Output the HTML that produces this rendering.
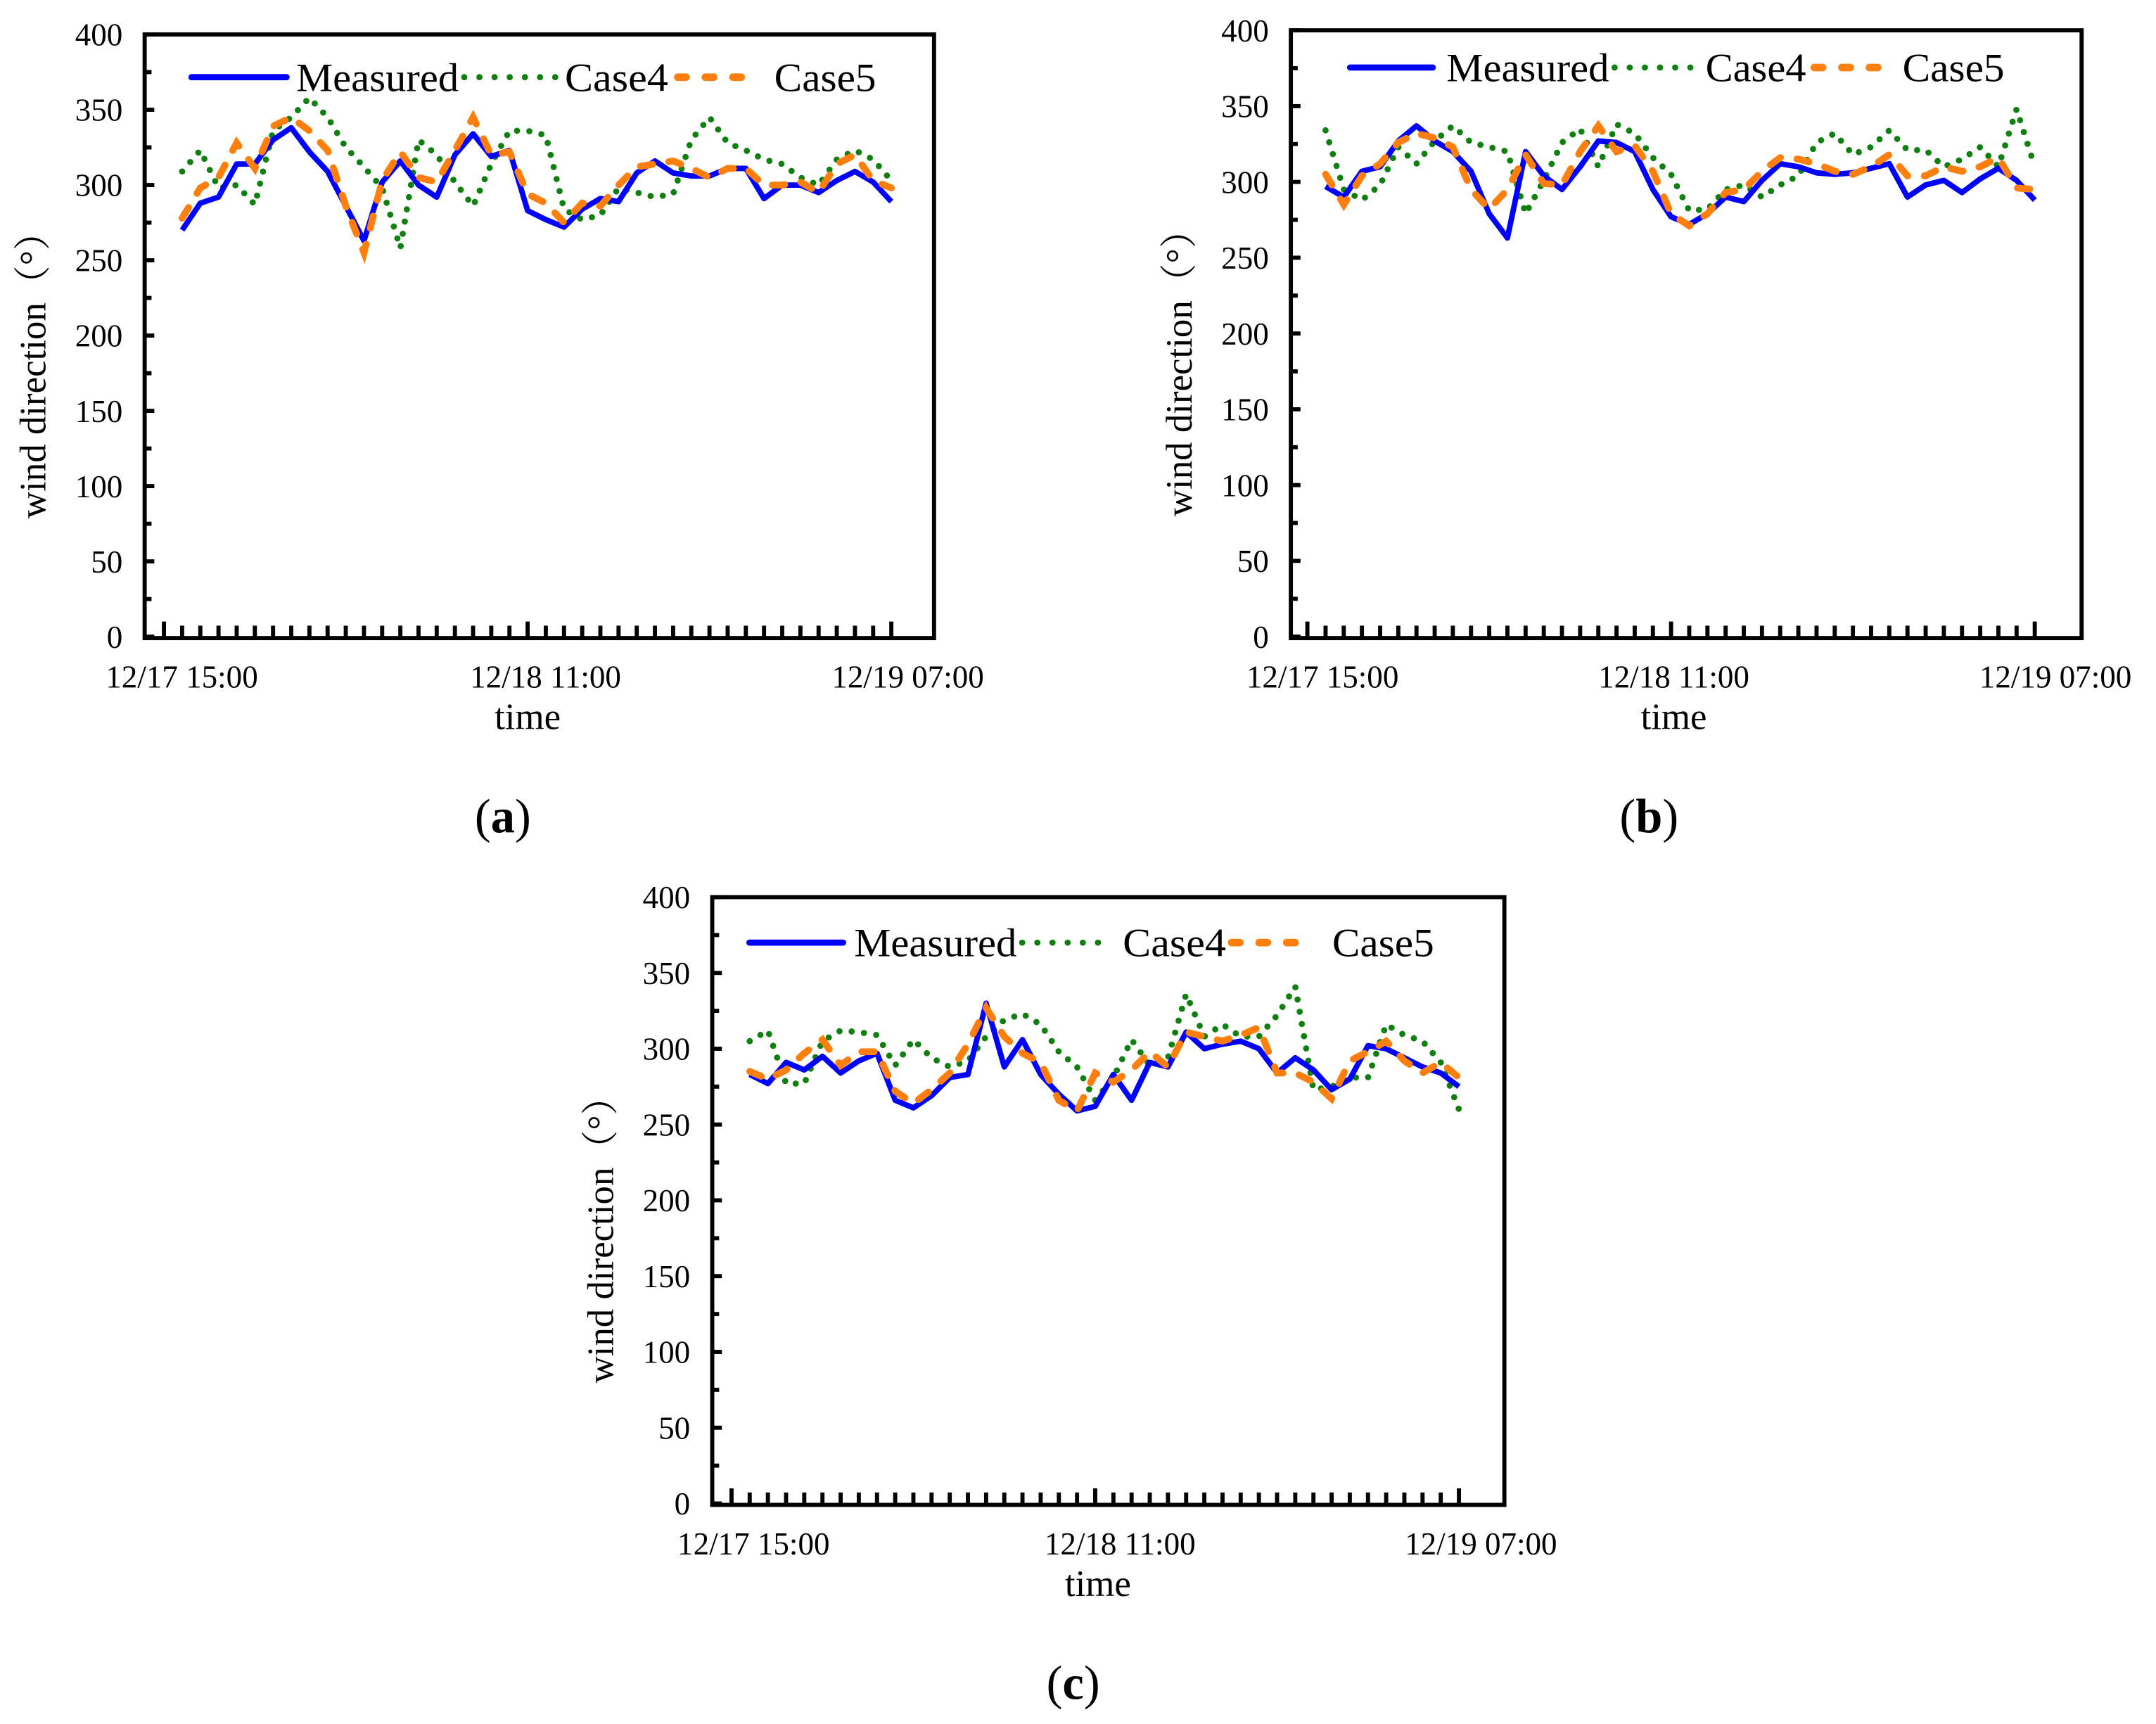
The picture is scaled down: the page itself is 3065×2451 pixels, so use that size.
<!DOCTYPE html>
<html><head><meta charset="utf-8"><style>
html,body{margin:0;padding:0;background:#fff;}
svg{display:block;}
</style></head><body>
<svg id="fig" width="3065" height="2451" viewBox="0 0 1565 1251" preserveAspectRatio="none" xmlns="http://www.w3.org/2000/svg"></svg>
<script>
const hours = [1,2,3,4,5,6,7,8,9,10,11,12,13,14,15,16,17,18,19,20,21,22,23,24,25,26,27,28,29,30,31,32,33,34,35,36,37,38,39,40];
const yTicks = [0,50,100,150,200,250,300,350,400];
const xTickLabels = ["12/17 15:00","12/18 11:00","12/19 07:00"];
const seriesNames = ["Measured","Case4","Case5"];

const aMeasured = [270,288,292,314,314,330,338,322,309,286,263,302,316,300,292,320,334,319,323,283,277,272,284,291,289,308,316,308,306,306,311,311,291,300,300,295,303,309,302,289];
const aCase4 = [309,323,298,300,287,336,345,358,345,325,312,298,258,330,320,302,286,314,336,336,333,284,277,280,298,295,292,294,330,345,328,323,317,314,305,300,317,323,317,303];
const aCase5 = [278,298,305,328,311,339,345,336,323,286,255,303,322,305,302,323,345,320,322,294,288,275,288,286,300,312,314,316,311,305,311,311,300,300,302,295,314,320,303,298];

const bMeasured = [297,290,307,310,327,337,327,320,307,279,263,320,304,295,310,327,326,320,295,277,272,279,290,287,301,312,310,306,305,306,309,312,290,298,301,293,302,309,301,288];
const bCase4 = [334,295,288,298,323,312,327,337,326,323,320,279,301,326,335,310,338,332,316,305,281,282,295,298,290,298,304,326,332,318,323,334,321,321,310,315,323,310,348,310];
const bCase5 = [305,285,304,312,326,332,329,323,295,282,295,318,299,298,320,337,320,324,307,279,271,279,293,295,307,316,315,312,307,305,310,318,304,304,310,307,310,316,296,295];

const cMeasured = [283,277,291,286,295,284,292,297,266,261,269,281,283,330,288,306,283,270,259,262,283,266,291,288,311,300,303,305,300,284,294,286,273,280,302,300,294,288,284,275];
const cCase4 = [305,312,277,277,305,312,311,309,289,306,294,288,292,308,319,323,316,298,288,266,281,306,289,294,336,308,316,308,308,322,341,273,275,281,281,316,309,305,291,260];
const cCase5 = [285,280,286,297,306,289,298,298,272,264,273,284,303,327,308,297,291,266,259,284,278,286,298,288,311,308,305,309,314,284,284,278,267,292,298,305,292,284,291,281];

const NS = "http://www.w3.org/2000/svg";
const FONT = '"Liberation Serif", "Noto Serif CJK SC", serif';
const svg = document.getElementById('fig');
function mk(tag, attrs, parent){ const e=document.createElementNS(NS,tag); for(const k in attrs) e.setAttribute(k,attrs[k]); if(tag==='text'){e.setAttribute('font-family',FONT);} (parent||svg).appendChild(e); return e; }

function drawPanel(p, measured, case4, case5){
  const g = mk('g',{});
  
  
  const yS = v => p.y0 - (v/400)*(p.y0 - p.y1);
  const xS = h => p.a + 13.2*h;
  const fr = mk('rect',{x:p.x0,y:p.y1,width:p.x1-p.x0,height:p.y0-p.y1+1,fill:'none',stroke:'#000','stroke-width':3},g);
  
  
  for(let v=0; v<=400; v+=25){
    const t = mk('line',{x1:p.x0,x2:p.x0+(v%50===0?7:5),y1:yS(v),y2:yS(v),stroke:'#000','stroke-width':3},g);
    
    
  }
  yTicks.forEach(v=>{
    const t = mk('text',{x:p.x0-16,y:yS(v)+8,'font-size':23,'text-anchor':'end'},g);
    t.textContent = v;
    
    
  });
  for(let h=0; h<=40; h++){
    const x = xS(h);
    if (x < p.x0+6 || x > p.x1-4) continue;
    const t = mk('line',{x1:x,x2:x,y1:p.y0,y2:p.y0-(h%20===0?11:8),stroke:'#000','stroke-width':3},g);
    
    
  }
  xTickLabels.forEach((lab,i)=>{
    const t = mk('text',{x:p.lx[i],y:p.y0+37,'font-size':23,'text-anchor':'middle'},g);
    t.textContent = lab;
    
    
  });
  const xt = mk('text',{x:p.tx,y:p.y0+67,'font-size':27,'text-anchor':'middle'},g);
  xt.textContent = 'time';
  
  
  const yt = mk('text',{x:0,y:0,'font-size':27,'text-anchor':'middle',transform:`translate(${p.x0-72},${(p.y0+p.y1)/2+22}) rotate(-90)`},g);
  yt.textContent = 'wind direction（°）';
  
  
  const path = arr => arr.map((v,i)=>(i?'L':'M')+xS(hours[i]).toFixed(1)+','+yS(v).toFixed(1)).join(' ');
  const s4 = mk('path',{d:path(case4),fill:'none',stroke:'#0f7f0f','stroke-width':4.5,'stroke-linecap':'round','stroke-dasharray':'0 9'},g);
  
  
  const sm = mk('path',{d:path(measured),fill:'none',stroke:'#0000ff','stroke-width':4,'stroke-linejoin':'round'},g);
  
  
  const s5 = mk('path',{d:path(case5),fill:'none',stroke:'#ff7f0e','stroke-width':5,'stroke-linecap':'round','stroke-dasharray':'9 12'},g);
  
  
  const L = p.leg, ly = p.legY;
  const lg = mk('g',{},g);
  
  
  const l1 = mk('line',{x1:L[0],x2:L[1],y1:ly,y2:ly,stroke:'#0000ff','stroke-width':4.5,'stroke-linecap':'round'},lg);
  
  
  const l2 = mk('line',{x1:L[3],x2:L[4],y1:ly,y2:ly,stroke:'#0f7f0f','stroke-width':4.5,'stroke-linecap':'round','stroke-dasharray':'0 11'},lg);
  
  
  const l3 = mk('line',{x1:L[6],x2:L[7],y1:ly,y2:ly,stroke:'#ff7f0e','stroke-width':5.5,'stroke-linecap':'round','stroke-dasharray':'6 14'},lg);
  
  
  const tls = [L[9],L[10],L[11]];
  [L[2],L[5],L[8]].forEach((x,i)=>{
    const t = mk('text',{x:x,y:ly+10,'font-size':29,textLength:tls[i],lengthAdjust:'spacingAndGlyphs'},lg);
    t.textContent = seriesNames[i];
    
    
  });
  const pl = mk('text',{x:p.tx-18,y:p.capY,'font-size':35,'text-anchor':'middle'},g);
  pl.innerHTML = '(<tspan font-weight="bold">'+p.id+'</tspan>)';
  
  
}

drawPanel({id:'a',x0:105,x1:678,y0:462,y1:25,a:119,lx:[132,396,659],tx:383,capY:604,legY:56,
  leg:[139,208,215,337,405,410,492,545,562,118,75,74]}, aMeasured, aCase4, aCase5);
drawPanel({id:'b',x0:937,x1:1511,y0:462,y1:22,a:949,lx:[960,1215,1492],tx:1215,capY:604,legY:49,
  leg:[980,1040,1050,1172,1235,1238,1317,1375,1381,118,73,74]}, bMeasured, bCase4, bCase5);
drawPanel({id:'c',x0:517,x1:1092,y0:1091,y1:651,a:531,lx:[547,813,1075],tx:797,capY:1233,legY:684,
  leg:[544,612,620,742,808,815,894,950,967,118,75,74]}, cMeasured, cCase4, cCase5);
</script>
</body></html>
